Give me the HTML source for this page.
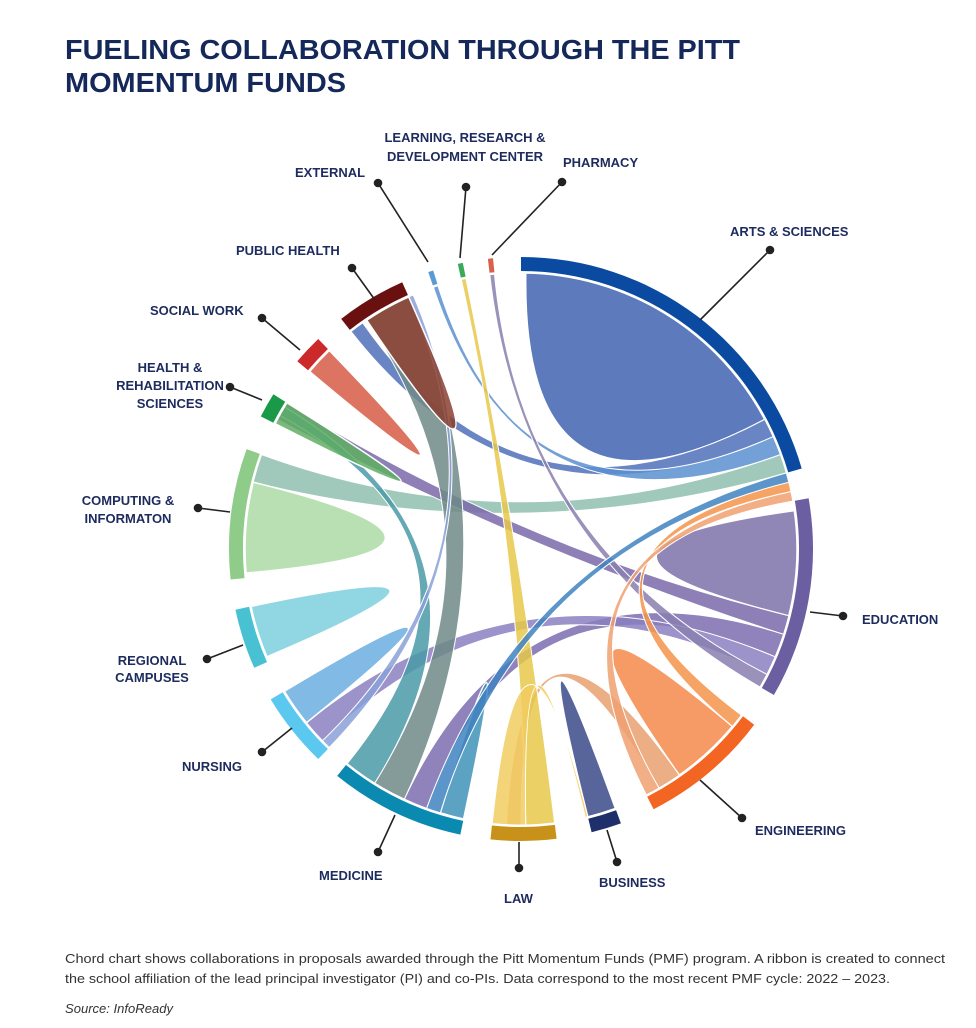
<!DOCTYPE html>
<html><head><meta charset="utf-8"><style>
body{margin:0;background:#fff;width:976px;height:1023px;overflow:hidden;font-family:"Liberation Sans",sans-serif}
</style></head><body>
<svg id="s" width="976" height="1023" xmlns="http://www.w3.org/2000/svg">
<text x="65" y="59" font-family="Liberation Sans" font-weight="bold" font-size="28" fill="#14285a" textLength="675" lengthAdjust="spacingAndGlyphs">FUELING COLLABORATION THROUGH THE PITT</text>
<text x="65" y="92" font-family="Liberation Sans" font-weight="bold" font-size="28" fill="#14285a" textLength="281" lengthAdjust="spacingAndGlyphs">MOMENTUM FUNDS</text>
<g id="rib" fill-opacity="0.85"></g>
<g id="arcs"></g>
<g id="lead" stroke="#222" stroke-width="1.6" fill="#222"></g>
<g font-family="Liberation Sans" font-weight="bold" font-size="13" fill="#1d2b5e">
<text x="730" y="236">ARTS &amp; SCIENCES</text>
<text x="563" y="167">PHARMACY</text>
<text x="465" y="142" text-anchor="middle">LEARNING, RESEARCH &amp;</text>
<text x="465" y="161" text-anchor="middle">DEVELOPMENT CENTER</text>
<text x="295" y="177">EXTERNAL</text>
<text x="236" y="255">PUBLIC HEALTH</text>
<text x="150" y="315">SOCIAL WORK</text>
<text x="170" y="372" text-anchor="middle">HEALTH &amp;</text>
<text x="170" y="390" text-anchor="middle">REHABILITATION</text>
<text x="170" y="408" text-anchor="middle">SCIENCES</text>
<text x="128" y="505" text-anchor="middle">COMPUTING &amp;</text>
<text x="128" y="523" text-anchor="middle">INFORMATON</text>
<text x="152" y="665" text-anchor="middle">REGIONAL</text>
<text x="152" y="682" text-anchor="middle">CAMPUSES</text>
<text x="182" y="771">NURSING</text>
<text x="319" y="880">MEDICINE</text>
<text x="504" y="903">LAW</text>
<text x="599" y="887">BUSINESS</text>
<text x="755" y="835">ENGINEERING</text>
<text x="862" y="624">EDUCATION</text>
</g>
<text x="65" y="963" font-family="Liberation Sans" font-size="12.8" fill="#333" textLength="880" lengthAdjust="spacingAndGlyphs">Chord chart shows collaborations in proposals awarded through the Pitt Momentum Funds (PMF) program. A ribbon is created to connect</text>
<text x="65" y="983" font-family="Liberation Sans" font-size="12.8" fill="#333" textLength="825" lengthAdjust="spacingAndGlyphs">the school affiliation of the lead principal investigator (PI) and co-PIs. Data correspond to the most recent PMF cycle:  2022 – 2023.</text>
<text x="65" y="1013" font-family="Liberation Sans" font-style="italic" font-size="12.8" fill="#333" textLength="108" lengthAdjust="spacingAndGlyphs">Source: InfoReady</text>
</svg>
<script>
var cx=521,cy=549,R=276,R1=278,R2=292;
function p(a,r){var t=a*Math.PI/180;return [cx+r*Math.sin(t),cy-r*Math.cos(t)];}
function f(q){return q[0].toFixed(1)+" "+q[1].toFixed(1);}
var arcs=[[0,74,"#0a4aa0"],[80,120,"#6b5fa2"],[127,153,"#f26522"],[160,166,"#1f2f6b"],[173,186,"#c8921a"],[192,219,"#0a8ab0"],[224,239,"#5bc8f0"],[246,258,"#48c2d2"],[264,290,"#8fcc8a"],[297,302,"#1a9a48"],[310,316,"#cc2a2a"],[322,336,"#6b1010"],[341.5,342.5,"#5b9bd5"],[347.5,348.5,"#3aaa5a"],[353.5,354.5,"#d9604a"]];
var h="";
arcs.forEach(function(a){h+='<path d="M'+f(p(a[0],R2))+' A'+R2+' '+R2+' 0 '+(a[1]-a[0]>180?1:0)+' 1 '+f(p(a[1],R2))+' L'+f(p(a[1],R1))+' A'+R1+' '+R1+' 0 0 0 '+f(p(a[0],R1))+'Z" fill="'+a[2]+'"/>';});
document.getElementById("arcs").innerHTML=h;
function chord(a1,a2,b1,b2,c){return '<path d="M'+f(p(a1,R))+' A'+R+' '+R+' 0 0 1 '+f(p(a2,R))+' Q'+cx+' '+cy+' '+f(p(b1,R))+' A'+R+' '+R+' 0 0 1 '+f(p(b2,R))+' Q'+cx+' '+cy+' '+f(p(a1,R))+'Z" fill="'+c+'" stroke="#fff" stroke-width="1"/>';}
function self(a1,a2,c){return '<path d="M'+f(p(a1,R))+' A'+R+' '+R+' 0 0 1 '+f(p(a2,R))+' Q'+cx+' '+cy+' '+f(p(a1,R))+'Z" fill="'+c+'" stroke="#fff" stroke-width="1.5"/>';}
var r="";
r+=self(1,62,"#3f63b0");
r+=chord(62,66,322,325,"#5070b8");
r+=chord(66,70,341.5,342.5,"#5b8fd0");
r+=chord(70,74,284,290,"#8fc0b0");
r+=self(82,104,"#7e72aa");
r+=chord(104,108,298,302,"#7a6aaa");
r+=chord(108,113,200,205,"#7d6cae");
r+=chord(113,117,226,231,"#8a80c0");
r+=chord(117,120,353.5,354.5,"#8a7fb0");
r+=self(130,145,"#f5894a");
r+=chord(145,150,180,183,"#e8a070");
r+=chord(127,130,76,78,"#f5944a");
r+=chord(150,153,78,80,"#f0a070");
r+=self(160,166,"#3a4a88");
r+=chord(173,179,347.5,348.5,"#e8c84a");
r+=chord(179,186,166,166.5,"#f2cc60");
r+=self(192,197,"#3f92b8");
r+=chord(197,200,74,76,"#3f82c0");
r+=chord(205,212,326,336,"#6e8a88");
r+=chord(212,219,299,301,"#4a9aa8");
r+=self(231,239,"#6aaee0");
r+=chord(224,226,336,337,"#8aa0d8");
r+=self(247,258,"#7ed0de");
r+=self(265,284,"#acdaa4");
r+=self(297,302,"#5fae64");
r+=self(310,316,"#d65c45");
r+=self(326,336,"#8b4030");
document.getElementById("rib").innerHTML=r;
var L=[[770,250,700,320],[562,182,492,255],[466,187,460,258],[378,183,428,262],[352,268,375,300],[262,318,300,350],[230,387,262,400],[198,508,230,512],[207,659,243,645],[262,752,292,728],[378,852,395,815],[519,868,519,842],[617,862,607,830],[742,818,700,780],[843,616,810,612]];
var g="";L.forEach(function(l){g+='<line x1="'+l[0]+'" y1="'+l[1]+'" x2="'+l[2]+'" y2="'+l[3]+'"/><circle cx="'+l[0]+'" cy="'+l[1]+'" r="3.5"/>';});
document.getElementById("lead").innerHTML=g;
</script>
</body></html>
